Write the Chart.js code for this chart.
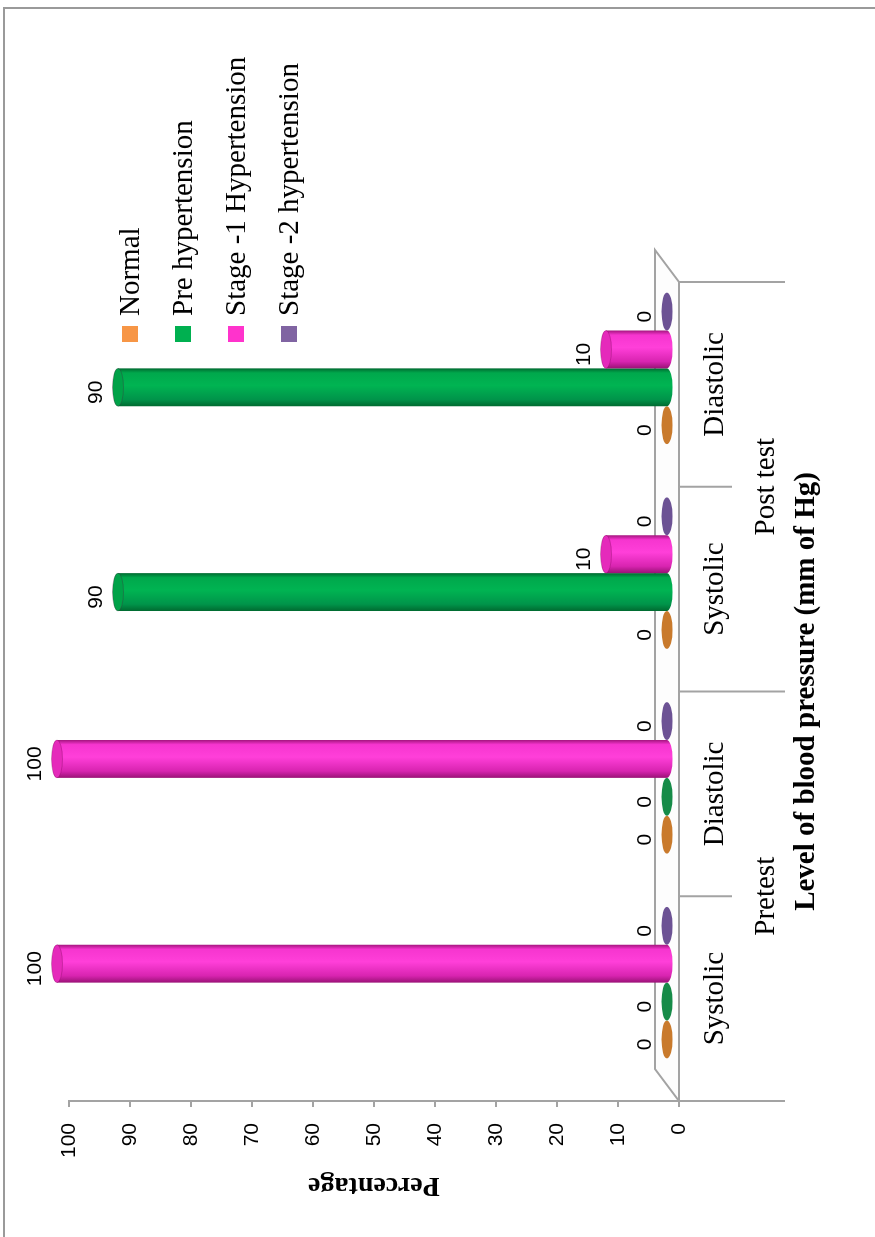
<!DOCTYPE html>
<html>
<head>
<meta charset="utf-8">
<script src="https://cdn.jsdelivr.net/npm/chart.js@4.4.1/dist/chart.umd.min.js"></script>
<style>
html, body { margin: 0; padding: 0; background: #fff; overflow: hidden; }
/* chart is laid out as a column chart and turned a quarter turn on the page */
#wrap {
  position: absolute; left: 0; top: 0; width: 1237px; height: 875px;
  transform-origin: 0 0; transform: translate(0, 1237px) rotate(-90deg);
}
</style>
</head>
<body>
<div id="wrap"><canvas id="bp" width="1237" height="875"></canvas></div>
<script>
var categories = ['Systolic', 'Diastolic', 'Systolic', 'Diastolic'];
var groups = ['Pretest', 'Post test'];
var seriesNames = ['Normal', 'Pre hypertension', 'Stage -1 Hypertension', 'Stage -2 hypertension'];
var normal = [0, 0, 0, 0];
var preHypertension = [0, 0, 90, 90];
var stage1 = [100, 100, 10, 10];
var stage2 = [0, 0, 0, 0];

var GRAY = '#a3a3a3';
var DEPTH_X = 32, DEPTH_Y = -24;      // floor depth
var MID_X = DEPTH_X / 2, MID_Y = DEPTH_Y / 2;  // bars stand half way back
var CAP_RY = 5.5;

// shading for each cylinder, left edge -> right edge
var shades = [
  { body: ['#a85c16', '#d9822f', '#f5a055', '#e08a38', '#9c5412'], cap: '#d08232', zero: '#c97a2c' },
  { body: ['#006a30', '#00944a', '#00b452', '#00a84c', '#006a30'], cap: '#00a248', zero: '#168b48' },
  { body: ['#9a1276', '#d824b0', '#ff3fd9', '#f635cf', '#a4157e'], cap: '#e52abb', zero: '#d926ad' },
  { body: ['#4f3a72', '#6e5596', '#8a6db0', '#7a60a2', '#4f3a72'], cap: '#775c9d', zero: '#6c5294' }
];

Chart.defaults.color = '#000';
Chart.defaults.font.family = '"Liberation Sans", Arial, sans-serif';

function cylinder(ctx, cx, top, base, w, sh) {
  var rx = w / 2, x0 = cx - rx;
  if (base - top < 0.5) {
    ctx.fillStyle = sh.zero;
    ctx.beginPath();
    ctx.ellipse(cx, base, rx, CAP_RY, 0, 0, Math.PI * 2);
    ctx.fill();
    return;
  }
  var g = ctx.createLinearGradient(x0, 0, x0 + w, 0);
  var stops = [0, 0.18, 0.55, 0.88, 1];
  sh.body.forEach(function (c, i) { g.addColorStop(stops[i], c); });
  ctx.fillStyle = g;
  ctx.beginPath();
  ctx.moveTo(x0, top);
  ctx.lineTo(x0, base);
  ctx.ellipse(cx, base, rx, CAP_RY, 0, Math.PI, 0, true);
  ctx.lineTo(x0 + w, top);
  ctx.closePath();
  ctx.fill();
  ctx.fillStyle = sh.cap;
  ctx.beginPath();
  ctx.ellipse(cx, top, rx, CAP_RY, 0, 0, Math.PI * 2);
  ctx.fill();
  ctx.strokeStyle = 'rgba(90,0,60,0.25)';
  ctx.lineWidth = 1;
  ctx.stroke();
}

var pagePlugin = {
  id: 'page',
  beforeDraw: function (chart) {
    var ctx = chart.ctx;
    ctx.save();
    ctx.fillStyle = '#fff';
    ctx.fillRect(0, 0, chart.width, chart.height);
    ctx.strokeStyle = '#9a9a9a';
    ctx.lineWidth = 2;
    ctx.beginPath();
    ctx.moveTo(0, 4);
    ctx.lineTo(1229, 4);
    ctx.lineTo(1229, 875);
    ctx.stroke();
    ctx.restore();
  },
  beforeDatasetsDraw: function (chart) {
    var ctx = chart.ctx, a = chart.chartArea, x = chart.scales.x;
    ctx.save();
    // floor
    ctx.strokeStyle = GRAY;
    ctx.lineWidth = 2;
    ctx.fillStyle = '#fdfdfd';
    ctx.beginPath();
    ctx.moveTo(a.left, a.bottom);
    ctx.lineTo(a.right, a.bottom);
    ctx.lineTo(a.right + DEPTH_X, a.bottom + DEPTH_Y);
    ctx.lineTo(a.left + DEPTH_X, a.bottom + DEPTH_Y);
    ctx.closePath();
    ctx.fill();
    ctx.stroke();
    // category dividers, long ones between the test groups
    for (var i = 0; i <= categories.length; i++) {
      var px = i === 0 ? a.left : i === categories.length ? a.right
        : (x.getPixelForValue(i - 1) + x.getPixelForValue(i)) / 2;
      var len = i % 2 === 0 ? 106 : 53;
      ctx.beginPath();
      ctx.moveTo(px, a.bottom);
      ctx.lineTo(px, a.bottom + len);
      ctx.stroke();
    }
    // group names under each pair
    ctx.fillStyle = '#000';
    ctx.font = '29px "Liberation Serif", "Times New Roman", serif';
    ctx.textAlign = 'center';
    ctx.textBaseline = 'middle';
    groups.forEach(function (name, gi) {
      var cx = (x.getPixelForValue(gi * 2) + x.getPixelForValue(gi * 2 + 1)) / 2;
      ctx.fillText(name, cx, 766);
    });
    ctx.restore();
  },
  beforeDatasetDraw: function () {
    return false;
  },
  afterDatasetsDraw: function (chart) {
    var ctx = chart.ctx, y = chart.scales.y;
    ctx.save();
    chart.data.datasets.forEach(function (ds, di) {
      var meta = chart.getDatasetMeta(di);
      meta.data.forEach(function (el, i) {
        var top = y.getPixelForValue(ds.data[i]);
        var base = y.getPixelForValue(0);
        cylinder(ctx, el.x + MID_X, top + MID_Y, base + MID_Y, el.width, shades[di]);
      });
    });
    ctx.fillStyle = '#000';
    ctx.font = '21px "Liberation Sans", Arial, sans-serif';
    ctx.textAlign = 'center';
    ctx.textBaseline = 'middle';
    chart.data.datasets.forEach(function (ds, di) {
      var meta = chart.getDatasetMeta(di);
      meta.data.forEach(function (el, i) {
        ctx.fillText(String(ds.data[i]), el.x + 11, y.getPixelForValue(ds.data[i]) - 34);
      });
    });
    ctx.restore();
  },
  afterDraw: function (chart) {
    var ctx = chart.ctx;
    ctx.save();
    ctx.font = '29px "Liberation Serif", "Times New Roman", serif';
    ctx.textAlign = 'left';
    ctx.textBaseline = 'middle';
    chart.data.datasets.forEach(function (ds, i) {
      var cy = 130 + i * 53;
      ctx.fillStyle = ds.backgroundColor;
      ctx.fillRect(895, cy - 8, 16, 16);
      ctx.fillStyle = '#000';
      ctx.fillText(ds.label, 921, cy + 1);
    });
    ctx.restore();
  }
};

new Chart(document.getElementById('bp'), {
  type: 'bar',
  data: {
    labels: categories,
    datasets: [
      { label: seriesNames[0], data: normal, backgroundColor: '#f79646' },
      { label: seriesNames[1], data: preHypertension, backgroundColor: '#00b050' },
      { label: seriesNames[2], data: stage1, backgroundColor: '#ff33cc' },
      { label: seriesNames[3], data: stage2, backgroundColor: '#8064a2' }
    ]
  },
  options: {
    responsive: false,
    animation: false,
    devicePixelRatio: 1,
    layout: { padding: { top: 69, right: 282, bottom: 0, left: 0 } },
    datasets: { bar: { categoryPercentage: 0.74, barPercentage: 1 } },
    plugins: { legend: { display: false }, tooltip: { enabled: false } },
    scales: {
      x: {
        grid: { display: false, drawTicks: false },
        border: { display: false },
        ticks: {
          autoSkip: false, maxRotation: 0, padding: 19,
          font: { family: '"Liberation Serif", "Times New Roman", serif', size: 29 }
        },
        title: {
          display: true,
          text: 'Level of blood pressure (mm of Hg)',
          font: { family: '"Liberation Serif", "Times New Roman", serif', size: 29, weight: 'bold' },
          padding: { top: 0, bottom: 51 }
        },
        afterFit: function (s) { s.height = 196; }
      },
      y: {
        min: 0, max: 100,
        grid: { drawOnChartArea: false, drawTicks: true, tickLength: 6, color: GRAY, lineWidth: 2 },
        border: { display: true, color: GRAY, width: 2 },
        ticks: { stepSize: 10, padding: 16, font: { size: 21 } },
        title: {
          display: true,
          text: 'Percentage',
          font: { family: '"Liberation Serif", "Times New Roman", serif', size: 28, weight: 'bold' },
          padding: { top: 35, bottom: 0 }
        },
        afterFit: function (s) { s.width = 136; }
      }
    }
  },
  plugins: [pagePlugin]
});
</script>
</body>
</html>
